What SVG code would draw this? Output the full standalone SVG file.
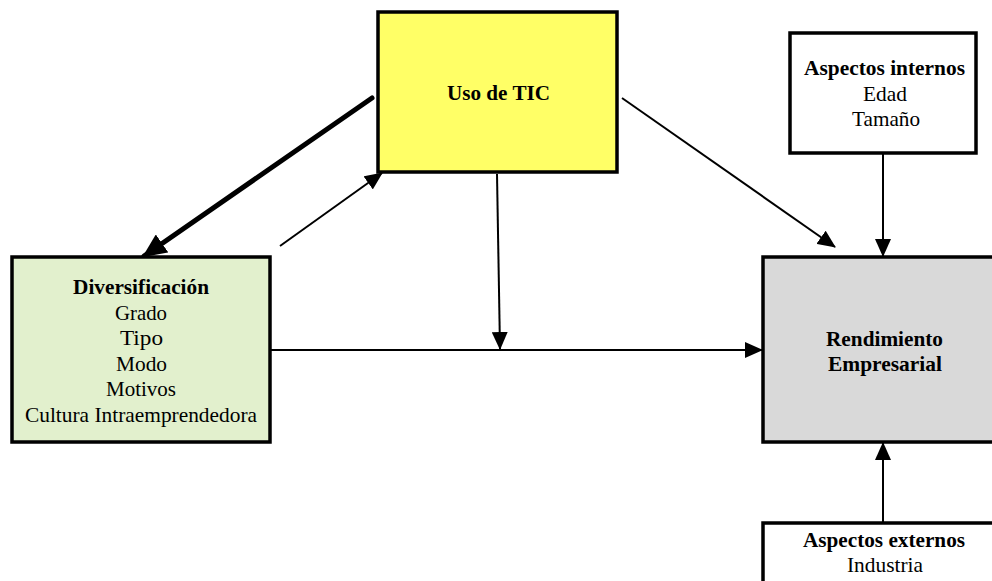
<svg xmlns="http://www.w3.org/2000/svg" width="992" height="581" viewBox="0 0 992 581">
<style>
.box{stroke:#000;stroke-width:3.5;stroke-linejoin:miter}
.t{font-family:"Liberation Serif","Times New Roman",serif;font-size:21px;fill:#000;text-anchor:middle}
.b{font-weight:bold}
.c{stroke:#000;stroke-width:2;fill:none}
</style>
<defs>
<marker id="arr" markerUnits="userSpaceOnUse" markerWidth="18" markerHeight="16" refX="17" refY="8" orient="auto" viewBox="0 0 18 16">
<path d="M0,0 L18,8 L0,16 z" fill="#000"/>
</marker>
<marker id="arrBig" markerUnits="userSpaceOnUse" markerWidth="24" markerHeight="22" refX="22" refY="11" orient="auto" viewBox="0 0 24 22">
<path d="M0,0 L24,11 L0,22 z" fill="#000"/>
</marker>
</defs>
<rect width="992" height="581" fill="#fff"/>
<g id="connectors">
<line x1="372" y1="98" x2="144" y2="256" stroke="#000" stroke-width="5" stroke-linecap="round" marker-end="url(#arrBig)"/>
<line class="c" x1="280" y1="246" x2="382" y2="173" marker-end="url(#arr)"/>
<line class="c" x1="622" y1="98" x2="835" y2="247" marker-end="url(#arr)"/>
<line class="c" x1="497" y1="174" x2="500" y2="349" marker-end="url(#arr)"/>
<line class="c" x1="270" y1="350" x2="762" y2="350" marker-end="url(#arr)"/>
<line class="c" x1="883" y1="154" x2="883" y2="256" marker-end="url(#arr)"/>
<line class="c" x1="883" y1="523" x2="883" y2="443" marker-end="url(#arr)"/>
</g>
<g id="uso-tic">
<rect class="box" x="378" y="12" width="239" height="160" fill="#FFFF66"/>
<text class="t b" x="498.5" y="100" textLength="103" lengthAdjust="spacingAndGlyphs">Uso de TIC</text>
</g>
<g id="aspectos-internos">
<rect class="box" x="790" y="33" width="186" height="120" fill="#fff"/>
<text class="t b" x="884.5" y="75" textLength="161" lengthAdjust="spacingAndGlyphs">Aspectos internos</text>
<text class="t" x="885" y="101" textLength="44" lengthAdjust="spacingAndGlyphs">Edad</text>
<text class="t" x="886" y="126" textLength="68" lengthAdjust="spacingAndGlyphs">Tamaño</text>
</g>
<g id="diversificacion">
<rect class="box" x="12" y="257" width="258" height="185" fill="#E2F0CD"/>
<text class="t b" x="141" y="294" textLength="136" lengthAdjust="spacingAndGlyphs">Diversificación</text>
<text class="t" x="141" y="319.5" textLength="52" lengthAdjust="spacingAndGlyphs">Grado</text>
<text class="t" x="141.5" y="345" textLength="43" lengthAdjust="spacingAndGlyphs">Tipo</text>
<text class="t" x="141.5" y="370.5" textLength="51" lengthAdjust="spacingAndGlyphs">Modo</text>
<text class="t" x="141" y="396" textLength="70" lengthAdjust="spacingAndGlyphs">Motivos</text>
<text class="t" x="141" y="421.5" textLength="232" lengthAdjust="spacingAndGlyphs">Cultura Intraemprendedora</text>
</g>
<g id="rendimiento">
<rect class="box" x="763" y="257" width="240" height="185" fill="#D9D9D9"/>
<text class="t b" x="884.5" y="346" textLength="117" lengthAdjust="spacingAndGlyphs">Rendimiento</text>
<text class="t b" x="885" y="371" textLength="114" lengthAdjust="spacingAndGlyphs">Empresarial</text>
</g>
<g id="aspectos-externos">
<rect class="box" x="763" y="523" width="240" height="70" fill="#fff"/>
<text class="t b" x="884" y="547" textLength="162" lengthAdjust="spacingAndGlyphs">Aspectos externos</text>
<text class="t" x="885" y="572" textLength="76" lengthAdjust="spacingAndGlyphs">Industria</text>
</g>
</svg>
